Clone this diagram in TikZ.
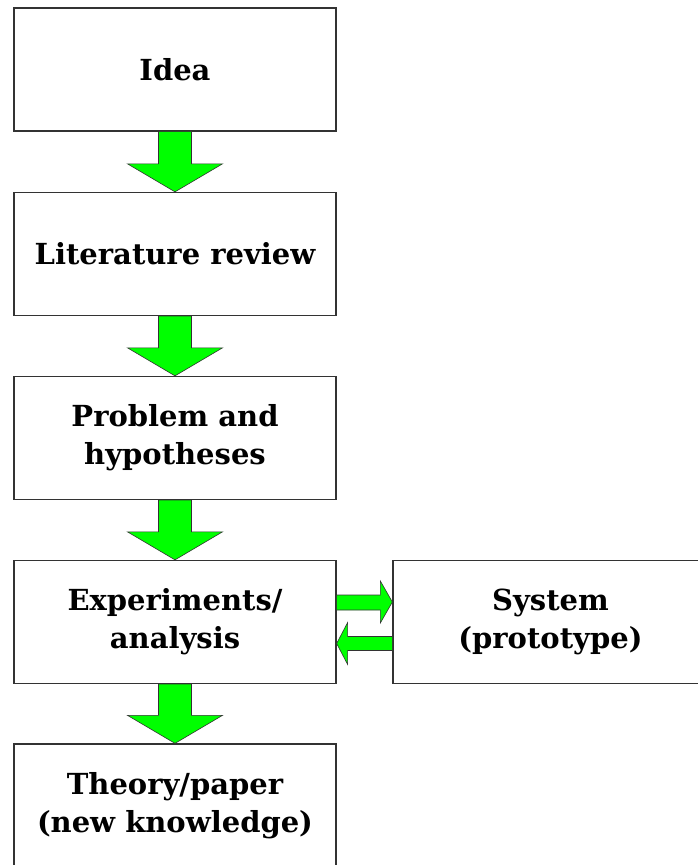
\documentclass[tikz,border=0pt]{standalone}
\usepackage{fontspec}
\setmainfont{DejaVu Serif}
\usetikzlibrary{calc}
\definecolor{arrowgreen}{HTML}{00FF00}
\definecolor{edgegray}{HTML}{333333}
\tikzset{
  stepbox/.style={draw=edgegray, line width=1.3pt, fill=white, rectangle, inner sep=0pt,
    minimum width=322pt, minimum height=123pt, align=center,
    font=\fontsize{29}{38}\selectfont\bfseries, text=black},
  greenarrow/.style={fill=arrowgreen, draw=edgegray, line width=0.6pt, line join=miter}
}
\newcommand\greendown[2]{%
  \draw[greenarrow] ($(#1.south)+(-16.5,0)$) -- ($(#2.north)+(-16.5,-28)$) -- ($(#2.north)+(-47.5,-28)$)
    -- (#2.north) -- ($(#2.north)+(47.5,-28)$) -- ($(#2.north)+(16.5,-28)$) -- ($(#1.south)+(16.5,0)$) -- cycle;}
\begin{document}
\begin{tikzpicture}[x=1pt,y=-1pt]
\useasboundingbox (0,0) rectangle (698,865);
\node[stepbox] (idea) at (175,69.5) {Idea};
\node[stepbox] (lit) at (175,254) {Literature review};
\node[stepbox] (prob) at (175,438) {Problem and\\hypotheses};
\node[stepbox] (exp) at (175,622) {Experiments/\\analysis};
\node[stepbox, minimum height=124pt] (theo) at (175,806) {Theory/paper\\(new knowledge)};
\node[stepbox, minimum width=315pt] (sys) at (550.5,622) {System\\(prototype)};
\greendown{idea}{lit}
\greendown{lit}{prob}
\greendown{prob}{exp}
\greendown{exp}{theo}
% right arrow
\draw[greenarrow] ($(exp.east)+(0,-27)$) -- ($(sys.west)+(-12,-27)$) -- ($(sys.west)+(-12,-41)$)
  -- ($(sys.west)+(0,-20)$) -- ($(sys.west)+(-12,1)$) -- ($(sys.west)+(-12,-12)$) -- ($(exp.east)+(0,-12)$) -- cycle;
% left arrow
\draw[greenarrow] ($(sys.west)+(0,14.5)$) -- ($(exp.east)+(11,14.5)$) -- ($(exp.east)+(11,0.5)$)
  -- ($(exp.east)+(0,21.5)$) -- ($(exp.east)+(11,42.5)$) -- ($(exp.east)+(11,28.5)$) -- ($(sys.west)+(0,28.5)$) -- cycle;
\end{tikzpicture}
\end{document}
